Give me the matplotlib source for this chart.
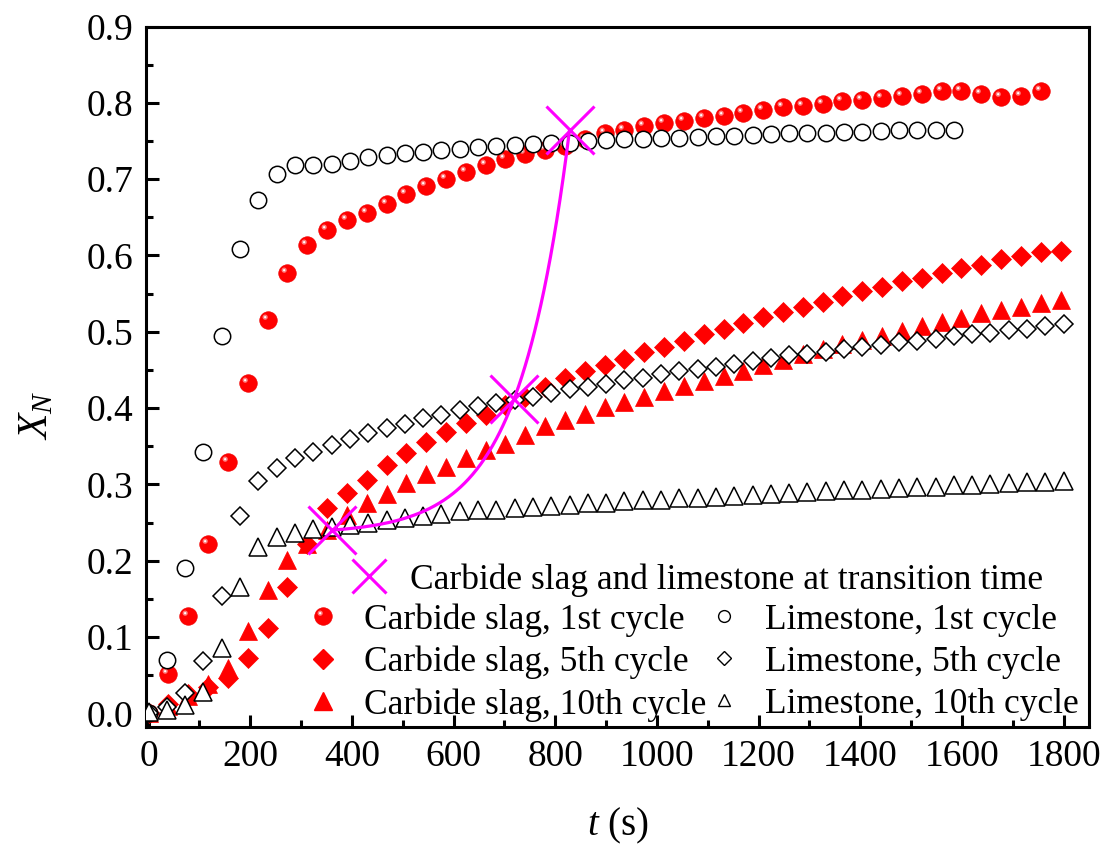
import numpy as np
import matplotlib
matplotlib.use('Agg')
import matplotlib.pyplot as plt
from matplotlib.lines import Line2D
from matplotlib.path import Path
from matplotlib.legend_handler import HandlerTuple
from matplotlib.ticker import MultipleLocator, FormatStrFormatter

plt.rcParams['font.family'] = ['Liberation Serif', 'DejaVu Serif']
plt.rcParams['mathtext.fontset'] = 'custom'
plt.rcParams['mathtext.rm'] = 'Liberation Serif'
plt.rcParams['mathtext.it'] = 'Liberation Serif:italic'

# sampling times (s)
t_cs = [0, 39, 78, 117, 156, 195, 234, 273, 312, 351, 390, 429, 468, 507, 546, 585,
        624, 663, 702, 741, 780, 819, 858, 897, 936, 975, 1014, 1053, 1092, 1131,
        1170, 1209, 1248, 1287, 1326, 1365, 1404, 1443, 1482, 1521, 1560, 1599,
        1638, 1677, 1716, 1755, 1794]
t_ls = [0, 36, 72, 108, 144, 180, 216, 252, 288, 324, 360, 396, 432, 468, 504, 540,
        576, 612, 648, 684, 720, 756, 792, 828, 864, 900, 936, 972, 1008, 1044,
        1080, 1116, 1152, 1188, 1224, 1260, 1296, 1332, 1368, 1404, 1440, 1476,
        1512, 1548, 1584, 1620, 1656, 1692, 1728, 1764, 1800]

# carbide slag
cs_1st = [0, 0.052, 0.127, 0.222, 0.329, 0.433, 0.515, 0.577, 0.614, 0.633, 0.646,
          0.656, 0.667, 0.680, 0.691, 0.700, 0.710, 0.719, 0.726, 0.733, 0.738,
          0.744, 0.752, 0.760, 0.765, 0.769, 0.773, 0.776, 0.780, 0.783, 0.787,
          0.791, 0.794, 0.796, 0.799, 0.802, 0.804, 0.806, 0.809, 0.812, 0.815,
          0.815, 0.811, 0.808, 0.809, 0.815]
cs_5th = [0, 0.012, 0.025, 0.035, 0.046, 0.072, 0.112, 0.165, 0.222, 0.269, 0.289,
          0.306, 0.325, 0.341, 0.355, 0.368, 0.380, 0.391, 0.404, 0.414, 0.427,
          0.439, 0.449, 0.457, 0.464, 0.473, 0.480, 0.488, 0.497, 0.504, 0.512,
          0.519, 0.526, 0.533, 0.539, 0.547, 0.553, 0.559, 0.566, 0.571, 0.577,
          0.583, 0.588, 0.595, 0.599, 0.605, 0.606]
cs_10th = [0, 0.010, 0.022, 0.039, 0.059, 0.108, 0.162, 0.201, 0.222, 0.240, 0.260,
           0.275, 0.288, 0.302, 0.314, 0.323, 0.334, 0.345, 0.353, 0.365, 0.376,
           0.384, 0.392, 0.401, 0.408, 0.415, 0.422, 0.429, 0.436, 0.442, 0.448,
           0.456, 0.463, 0.471, 0.478, 0.484, 0.489, 0.495, 0.501, 0.507, 0.513,
           0.518, 0.524, 0.529, 0.533, 0.538, 0.542]

# limestone
ls_1st = [0, 0.070, 0.190, 0.342, 0.494, 0.609, 0.673, 0.707, 0.718, 0.719, 0.720,
          0.724, 0.729, 0.732, 0.734, 0.736, 0.738, 0.740, 0.742, 0.744, 0.745,
          0.746, 0.748, 0.748, 0.750, 0.751, 0.752, 0.753, 0.754, 0.754, 0.755,
          0.756, 0.757, 0.758, 0.759, 0.760, 0.760, 0.761, 0.762, 0.762, 0.763,
          0.764, 0.764, 0.764, 0.765]
ls_5th = [0, 0.008, 0.027, 0.068, 0.154, 0.258, 0.304, 0.321, 0.334, 0.343, 0.352,
          0.359, 0.367, 0.374, 0.379, 0.387, 0.391, 0.398, 0.403, 0.406, 0.411,
          0.415, 0.420, 0.425, 0.428, 0.432, 0.437, 0.440, 0.444, 0.448, 0.451,
          0.454, 0.458, 0.462, 0.466, 0.469, 0.471, 0.474, 0.477, 0.480, 0.483,
          0.486, 0.488, 0.491, 0.494, 0.497, 0.499, 0.502, 0.504, 0.507, 0.510]
ls_10th = [0.002, 0.004, 0.011, 0.028, 0.086, 0.165, 0.218, 0.231, 0.236, 0.241,
           0.244, 0.247, 0.250, 0.253, 0.256, 0.258, 0.261, 0.265, 0.266, 0.267,
           0.269, 0.270, 0.272, 0.273, 0.275, 0.276, 0.278, 0.280, 0.280, 0.282,
           0.282, 0.284, 0.285, 0.286, 0.288, 0.289, 0.290, 0.291, 0.292, 0.293,
           0.294, 0.295, 0.296, 0.297, 0.299, 0.299, 0.301, 0.302, 0.303, 0.303,
           0.304]

# transition points
t_tr = [361, 719, 828]
x_tr = [0.240, 0.412, 0.764]

labels_cs = ['Carbide slag, 1st cycle', 'Carbide slag, 5th cycle', 'Carbide slag, 10th cycle']
labels_ls = ['Limestone, 1st cycle', 'Limestone, 5th cycle', 'Limestone, 10th cycle']
label_tr = 'Carbide slag and limestone at transition time'

RED = '#ff0000'
MAG = '#ff00ff'


def spot(c, r):
    # small circle off the marker centre, used as the highlight on the balls
    circ = Path.circle((-c, c), r)
    verts = np.vstack([[[1.0, 1.0]], circ.vertices])
    codes = np.concatenate([[Path.MOVETO], circ.codes])
    return Path(verts, codes)


glow = spot(0.38, 0.30)
shine = spot(0.38, 0.13)

fig = plt.figure(figsize=(11.09, 8.5), dpi=100)
ax = fig.add_axes([0.1317, 0.1447, 0.8503, 0.8241])

ms_ball = 12.6
ball = dict(ls='none', marker='o', ms=ms_ball, mfc=RED, mec='#f00000', mew=0.5)
glow_kw = dict(ls='none', marker=glow, ms=ms_ball, mfc='#ff9090', mec='none', alpha=0.85)
shine_kw = dict(ls='none', marker=shine, ms=ms_ball, mfc='white', mec='none')
ax.plot(t_cs[:len(cs_1st)], cs_1st, zorder=2, **ball)
ax.plot(t_cs[:len(cs_1st)], cs_1st, zorder=2, **glow_kw)
ax.plot(t_cs[:len(cs_1st)], cs_1st, zorder=2, **shine_kw)
ax.plot(t_cs, cs_5th, ls='none', marker='D', ms=10.2, mfc=RED, mec=RED, mew=0.5, zorder=2)
ax.plot(t_cs, cs_10th, ls='none', marker='^', ms=13.5, mfc=RED, mec=RED, mew=0.5, zorder=2)

ax.plot(t_ls[:len(ls_1st)], ls_1st, ls='none', marker='o', ms=11.8, mfc='white',
        mec='black', mew=1.1, zorder=3)
ax.plot(t_ls, ls_5th, ls='none', marker='D', ms=9.6, mfc='white', mec='black', mew=1.1, zorder=3)
ax.plot(t_ls, ls_10th, ls='none', marker='^', ms=12.6, mfc='white', mec='black', mew=1.1, zorder=3)

# exponential curve through the three transition points
tt = np.array(t_tr, float)
xx = np.array(x_tr, float)
taus = np.linspace(30, 400, 40000)
E = np.exp(tt[None, :] / taus[:, None])
res = (xx[2] - xx[1]) / (xx[1] - xx[0]) - (E[:, 2] - E[:, 1]) / (E[:, 1] - E[:, 0])
tau = taus[np.argmin(np.abs(res))]
e = np.exp(tt / tau)
b = (xx[1] - xx[0]) / (e[1] - e[0])
a = xx[0] - b * e[0]
tc = np.linspace(tt[0], tt[2], 300)
ax.plot(tc, a + b * np.exp(tc / tau), color=MAG, lw=2.3, zorder=4)
ax.plot(t_tr, x_tr, ls='none', marker='x', ms=34, mec=MAG, mew=2.2, zorder=5)

ax.set_xlim(-5, 1850)
ax.set_ylim(-0.018, 0.9)
ax.xaxis.set_major_locator(MultipleLocator(200))
ax.xaxis.set_minor_locator(MultipleLocator(100))
ax.yaxis.set_major_locator(MultipleLocator(0.1))
ax.yaxis.set_minor_locator(MultipleLocator(0.05))
ax.yaxis.set_major_formatter(FormatStrFormatter('%.1f'))
ax.tick_params(which='both', direction='in', width=2.2, top=False, right=False,
               labelsize=27, pad=9)
ax.tick_params(which='major', length=9)
ax.tick_params(which='minor', length=5)
for s in ax.spines.values():
    s.set_linewidth(2.2)

ax.set_xlabel('$t$ (s)', fontsize=28, labelpad=23)
ax.set_ylabel('$X_N$', fontsize=30)
ax.yaxis.set_label_coords(-0.095, 0.445)

# legend
h_tr = Line2D([], [], ls='none', marker='x', ms=25, mec=MAG, mew=2.2)
h_ball = (Line2D([], [], **ball), Line2D([], [], **glow_kw), Line2D([], [], **shine_kw))
h_cs5 = Line2D([], [], ls='none', marker='D', ms=10.2, mfc=RED, mec=RED)
h_cs10 = Line2D([], [], ls='none', marker='^', ms=13.5, mfc=RED, mec=RED)
h_ls1 = Line2D([], [], ls='none', marker='o', ms=8.5, mfc='white', mec='black', mew=1.0)
h_ls5 = Line2D([], [], ls='none', marker='D', ms=7, mfc='white', mec='black', mew=1.0)
h_ls10 = Line2D([], [], ls='none', marker='^', ms=9, mfc='white', mec='black', mew=1.0)

fs_leg = 25.5
leg1 = ax.legend([h_tr], [label_tr], loc='upper left', bbox_to_anchor=(0.2177, 0.234),
                 frameon=False, fontsize=fs_leg, borderpad=0, handlelength=1.0,
                 handletextpad=0.66, borderaxespad=0)
ax.add_artist(leg1)
ax.legend([h_ball, h_cs5, h_cs10, h_ls1, h_ls5, h_ls10], labels_cs + labels_ls,
          handler_map={tuple: HandlerTuple(ndivide=1)}, ncol=2,
          loc='upper left', bbox_to_anchor=(0.1689, 0.177), frameon=False,
          fontsize=fs_leg, borderpad=0, handlelength=1.0, handletextpad=0.66,
          columnspacing=0.0, labelspacing=0.255, borderaxespad=0)

fig.savefig('out.png', dpi=100)
